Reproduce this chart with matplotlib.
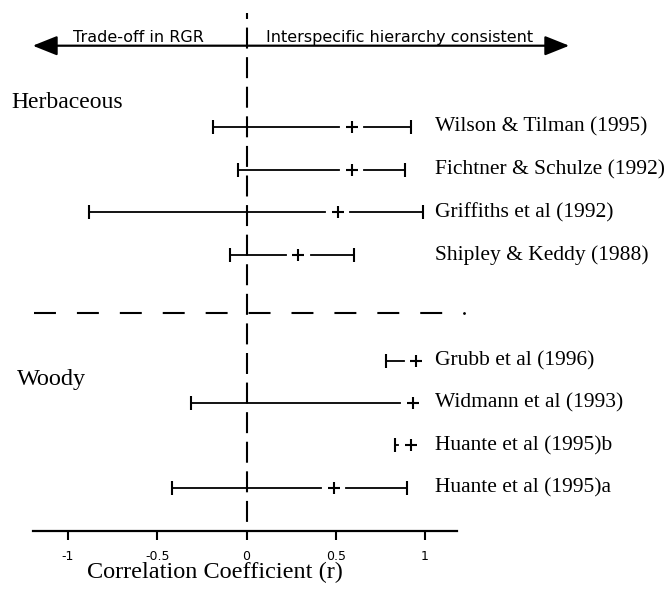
import numpy as np
import matplotlib
matplotlib.use('Agg')
import matplotlib.pyplot as plt
from matplotlib.patches import FancyArrowPatch

plt.rcParams['lines.scale_dashes'] = False

# Correlation between RGR and competitive ability, per study
herb_studies = ['Wilson & Tilman (1995)', 'Fichtner & Schulze (1992)',
                'Griffiths et al (1992)', 'Shipley & Keddy (1988)']
herb_r = [0.59, 0.59, 0.51, 0.29]
herb_lo = [-0.19, -0.05, -0.88, -0.09]
herb_hi = [0.92, 0.89, 0.99, 0.60]

woody_studies = ['Grubb et al (1996)', 'Widmann et al (1993)',
                 'Huante et al (1995)b', 'Huante et al (1995)a']
woody_r = [0.95, 0.93, 0.92, 0.49]
woody_lo = [0.78, -0.31, 0.83, -0.42]
woody_hi = [np.nan, np.nan, np.nan, 0.90]

tick_vals = [-1, -0.5, 0, 0.5, 1]
tick_labels = ['-1', '-0.5', '0', '0.5', '1']

# figure laid out in pixel rows (y) and r units (x)
W, H = 666, 598
x0, ppu = 246.5, 178.5          # pixel of r=0, pixels per unit r
def px(x):
    return (x - x0) / ppu

fig = plt.figure(figsize=(W / 100, H / 100), dpi=100)
ax = fig.add_axes([33 / W, (H - 531) / H, (457 - 33) / W, 531 / H])
ax.set_xlim(px(33), px(457))
ax.set_ylim(531, 0)
for s in ['top', 'left', 'right']:
    ax.spines[s].set_visible(False)
ax.spines['bottom'].set_linewidth(1.6)
ax.set_yticks([])
ax.set_xticks(tick_vals)
ax.set_xticklabels(tick_labels, fontfamily='DejaVu Sans', fontsize=9)
ax.tick_params(axis='x', direction='out', length=6.5, width=1.5, pad=7)

serif = 'Liberation Serif'
gap = 12.5 / ppu

def draw_rows(ys, names, r, lo, hi):
    for y, name, m, a, b in zip(ys, names, r, lo, hi):
        ax.plot([a, m - gap], [y, y], color='black', lw=1.3)
        ax.plot([a], [y], marker='|', ms=10, mew=1.5, color='black')
        if not np.isnan(b):
            ax.plot([m + gap, b], [y, y], color='black', lw=1.3)
            ax.plot([b], [y], marker='|', ms=10, mew=1.5, color='black')
        ax.plot([m], [y], marker='+', ms=9, mew=1.5, color='black')
        ax.text(px(435), y, name, fontfamily=serif, fontsize=15.5,
                ha='left', va='center', clip_on=False)

herb_y = [127 + 42.7 * i for i in range(len(herb_studies))]
woody_y = [361 + 42.2 * i for i in range(len(woody_studies))]
draw_rows(herb_y, herb_studies, herb_r, herb_lo, herb_hi)
draw_rows(woody_y, woody_studies, woody_r, woody_lo, woody_hi)

# group headings
ax.text(px(11), 103, 'Herbaceous', fontfamily=serif, fontsize=17,
        ha='left', va='center', clip_on=False)
ax.text(px(17), 379, 'Woody', fontfamily=serif, fontsize=17.5,
        ha='left', va='center', clip_on=False)

# zero line and group divider
ax.plot([0, 0], [13, 531], color='black', lw=1.5,
        linestyle=(10.8, (15.1, 6.2)), clip_on=False)
ax.plot([px(34), px(443)], [313, 313], color='black', lw=1.5,
        linestyle=(0, (15.8, 15.1)))
ax.plot([px(464)], [313], marker='.', ms=2, color='black', clip_on=False)

# direction arrow across the top
arrow = FancyArrowPatch((px(30), 45.7), (px(572), 45.7),
                        arrowstyle='<|-|>,head_length=1.0,head_width=0.4',
                        mutation_scale=15, lw=1.6, color='black', clip_on=False)
ax.add_patch(arrow)
ax.text(px(73), 42, 'Trade-off in RGR', fontfamily='DejaVu Sans',
        fontsize=11.5, ha='left', va='baseline', clip_on=False)
ax.text(px(266), 42, 'Interspecific hierarchy consistent',
        fontfamily='DejaVu Sans', fontsize=11.5, ha='left', va='baseline',
        clip_on=False)

ax.text(px(215), 572, 'Correlation Coefficient (r)', fontfamily=serif,
        fontsize=17.5, ha='center', va='center', clip_on=False)

fig.savefig('out.png', dpi=100)
